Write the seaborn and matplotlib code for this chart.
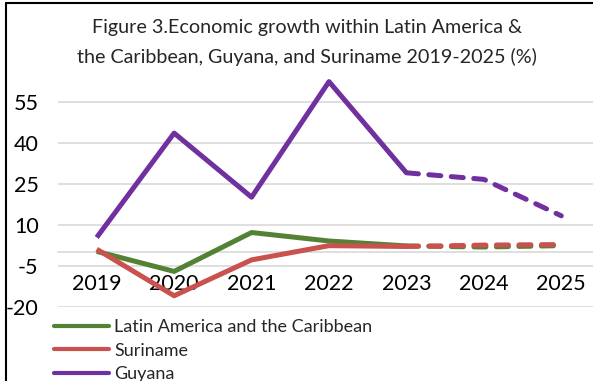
import matplotlib
matplotlib.use("Agg")
import matplotlib.pyplot as plt
import seaborn as sns
import pandas as pd
from matplotlib.lines import Line2D

years = ["2019", "2020", "2021", "2022", "2023", "2024", "2025"]
lac = [0.3, -7.0, 7.2, 4.1, 2.3, 1.9, 2.4]
suriname = [1.1, -15.9, -2.8, 2.4, 2.1, 2.6, 2.8]
guyana = [5.4, 43.5, 20.1, 62.3, 29.0, 26.6, 13.3]
forecast_start = 4  # index of 2023: solid up to here, dashed after
series_names = ["Latin America and the Caribbean", "Suriname", "Guyana"]
series_values = [lac, suriname, guyana]
colors = ["#548235", "#c9514e", "#7030a0"]
yticks = [-20, -5, 10, 25, 40, 55]

sns.set_theme(style="white")
plt.rcParams["font.family"] = ["Lato", "DejaVu Sans"]

W, H = 593, 381
fig = plt.figure(figsize=(W / 100, H / 100), dpi=100)
ax = fig.add_axes([58 / W, 1 - 307 / H, (600 - 58) / W, (307 - 66) / H])

rows = []
for name, vals in zip(series_names, series_values):
    for i, v in enumerate(vals):
        if i <= forecast_start:
            rows.append(dict(series=name, pos=i, value=v, phase="actual"))
        if i >= forecast_start:
            rows.append(dict(series=name, pos=i, value=v, phase="forecast"))
df = pd.DataFrame(rows)

lw = 3.6
for name, col in zip(series_names, colors):
    sub = df[df.series == name]
    sns.lineplot(data=sub[sub.phase == "actual"], x="pos", y="value", color=col,
                 linewidth=lw, ax=ax, legend=False, solid_capstyle="butt")
    sns.lineplot(data=sub[sub.phase == "forecast"], x="pos", y="value", color=col,
                 linewidth=lw, ax=ax, legend=False)
for ln in ax.lines[1::2]:
    ln.set_dashes((2.4, 2.1))
    ln.set_dash_capstyle("round")

ax.set_xlim(-0.5, len(years) - 0.5)
ax.set_ylim(-20, 68)
ax.set_yticks(yticks)
ax.set_yticklabels([str(t) for t in yticks])
ax.set_xticks(range(len(years)))
ax.set_xticklabels(years)
ax.set_xlabel("")
ax.set_ylabel("")
ax.grid(axis="y", color="#d9d9d9", linewidth=1.2)
ax.set_axisbelow(True)
for s in ["top", "right", "left"]:
    ax.spines[s].set_visible(False)
ax.spines["bottom"].set_position(("data", 0))
ax.spines["bottom"].set_color("#d9d9d9")
ax.spines["bottom"].set_linewidth(1.2)
ax.spines["bottom"].set_zorder(0.5)
ax.tick_params(axis="x", length=0, pad=15.5, labelsize=15.5, labelcolor="black")
ax.tick_params(axis="y", length=0, pad=14, labelsize=15.5, labelcolor="black")
ax.patch.set_alpha(0)

fig.text(307 / W, 1 - 27 / H, "Figure 3.Economic growth within Latin America &",
         ha="center", va="center", fontsize=14.2)
fig.text(307 / W, 1 - 57 / H, "the Caribbean, Guyana, and Suriname 2019-2025 (%)",
         ha="center", va="center", fontsize=14.2)

handles = [Line2D([0], [0], color=c, linewidth=3, solid_capstyle="round") for c in colors]
fig.legend(handles, series_names, loc="upper left",
           bbox_to_anchor=(54 / W, 1 - 319 / H), frameon=False, fontsize=13,
           handlelength=3.05, handletextpad=0.28, labelspacing=0.42, borderaxespad=0,
           borderpad=0)

# frame edges of the cropped original
fig.add_artist(Line2D([6 / W, 6 / W], [0, 1 - 3 / H], color="black", linewidth=1.5,
                      transform=fig.transFigure))
fig.add_artist(Line2D([6 / W, 1], [1 - 3 / H, 1 - 3 / H], color="black", linewidth=1.5,
                      transform=fig.transFigure))

fig.savefig("out.png", dpi=100)
